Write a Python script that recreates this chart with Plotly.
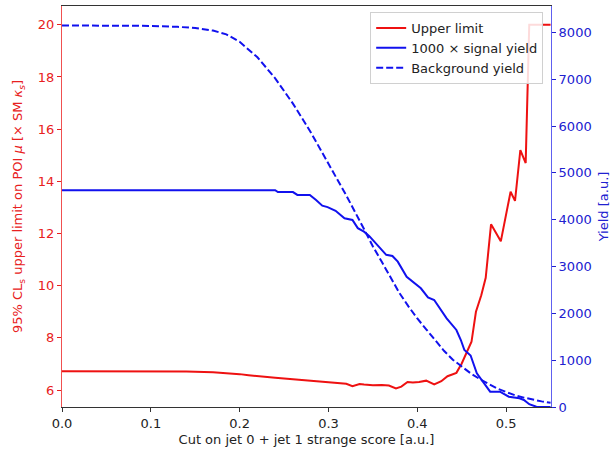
import plotly.graph_objects as go

# Upper limit (left axis)
limit_x = [0.000, 0.050, 0.100, 0.140, 0.170, 0.190, 0.200, 0.210, 0.220, 0.230, 0.240, 0.250,
           0.260, 0.270, 0.280, 0.290, 0.300, 0.310, 0.320, 0.327, 0.335, 0.340, 0.350, 0.360,
           0.368, 0.376, 0.382, 0.389, 0.395, 0.402, 0.410, 0.419, 0.427, 0.434, 0.444, 0.450,
           0.455, 0.461, 0.466, 0.472, 0.477, 0.483, 0.494, 0.505, 0.510, 0.516, 0.522, 0.526, 0.550]
limit_y = [6.72, 6.72, 6.72, 6.71, 6.68, 6.64, 6.61, 6.57, 6.53, 6.50, 6.47, 6.44,
           6.41, 6.38, 6.35, 6.33, 6.30, 6.27, 6.24, 6.15, 6.23, 6.21, 6.18, 6.19,
           6.17, 6.06, 6.13, 6.31, 6.29, 6.31, 6.36, 6.22, 6.34, 6.53, 6.66, 7.02,
           7.40, 7.85, 9.00, 9.63, 10.30, 12.35, 11.70, 13.60, 13.25, 15.20, 14.70, 20.00, 20.00]

# 1000 x signal yield (right axis)
signal_x = [0.000, 0.240, 0.243, 0.260, 0.265, 0.279, 0.286, 0.293, 0.299, 0.308, 0.318, 0.327,
            0.333, 0.340, 0.346, 0.357, 0.365, 0.372, 0.378, 0.388, 0.395, 0.404, 0.412, 0.419,
            0.433, 0.444, 0.449, 0.453, 0.460, 0.467, 0.482, 0.493, 0.503, 0.515, 0.520, 0.526,
            0.534, 0.550]
signal_y = [4630, 4630, 4590, 4590, 4530, 4530, 4420, 4300, 4270, 4190, 4030, 3995,
            3820, 3745, 3650, 3425, 3250, 3226, 3104, 2780, 2680, 2535, 2340, 2286,
            1895, 1645, 1431, 1218, 1100, 720, 327, 327, 220, 186, 150, 60,
            5, 0]

# Background yield (right axis)
bkg_x = [0.00, 0.05, 0.10, 0.13, 0.15, 0.17, 0.185, 0.20, 0.22, 0.24, 0.26, 0.28, 0.30, 0.32,
         0.34, 0.35, 0.36, 0.37, 0.38, 0.39, 0.40, 0.41, 0.42, 0.43, 0.44, 0.45, 0.46, 0.47,
         0.48, 0.49, 0.50, 0.51, 0.52, 0.53, 0.54, 0.55]
bkg_y = [8150, 8150, 8140, 8120, 8095, 8040, 7960, 7800, 7470, 7020, 6480, 5870, 5200, 4520,
         3800, 3430, 3100, 2760, 2430, 2150, 1890, 1660, 1420, 1200, 1010, 860, 720, 600,
         490, 395, 320, 250, 200, 155, 120, 92]

x_ticks = [0.0, 0.1, 0.2, 0.3, 0.4, 0.5]
left_ticks = [6, 8, 10, 12, 14, 16, 18, 20]
right_ticks = [0, 1000, 2000, 3000, 4000, 5000, 6000, 7000, 8000]

FONT = "DejaVu Sans"

fig = go.Figure()
fig.add_trace(go.Scatter(x=limit_x, y=limit_y, mode="lines", name="Upper limit",
                         line=dict(color="#ee1111", width=2), yaxis="y"))
fig.add_trace(go.Scatter(x=signal_x, y=signal_y, mode="lines", name="1000 × signal yield",
                         line=dict(color="#1111ee", width=2), yaxis="y2"))
fig.add_trace(go.Scatter(x=bkg_x, y=bkg_y, mode="lines", name="Background yield",
                         line=dict(color="#1111ee", width=2, dash="7px,3px"), yaxis="y2"))

fig.update_layout(
    width=613, height=453,
    margin=dict(l=62, r=62, t=6, b=46, autoexpand=False),
    paper_bgcolor="white", plot_bgcolor="white",
    font=dict(family=FONT, size=13, color="#222222"),
    showlegend=True,
    legend=dict(x=0.984, y=0.985, xanchor="right", yanchor="top",
                bgcolor="rgba(255,255,255,0.85)", bordercolor="#d0d0d0", borderwidth=1,
                font=dict(family=FONT, size=13, color="#222222"),
                tracegroupgap=0, itemwidth=30),
    xaxis=dict(range=[0, 0.5505], tickvals=x_ticks, ticktext=[f"{v:.1f}" for v in x_ticks],
               showgrid=False, zeroline=False, showline=True, linecolor="#333333", linewidth=1,
               mirror=True, ticks="outside", ticklen=4, tickcolor="#333333",
               tickfont=dict(size=13, color="#222222"),
               title=dict(text="Cut on jet 0 + jet 1 strange score [a.u.]", standoff=5,
                          font=dict(size=13, color="#222222"))),
    yaxis=dict(range=[5.35, 20.72], tickvals=left_ticks, showgrid=False, zeroline=False,
               showline=True, linecolor="#f05050", linewidth=1, ticks="outside", ticklen=4,
               tickcolor="#e82020", tickfont=dict(size=13, color="#e82020"),
               title=dict(text="95% CL<sub>s</sub> upper limit on POI <i>μ</i> [× SM <i>κ<sub>s</sub></i>]",
                          standoff=12, font=dict(size=13, color="#e82020"))),
    yaxis2=dict(range=[0, 8565], tickvals=right_ticks, overlaying="y", side="right", anchor="x",
                showgrid=False, zeroline=False, showline=True, linecolor="#6060f0", linewidth=1,
                ticks="outside", ticklen=4, tickcolor="#2020d0",
                tickfont=dict(size=13, color="#2020d0"),
                title=dict(text="Yield [a.u.]", standoff=8, font=dict(size=13, color="#2020d0"))),
)

fig.write_html("out.html", config={"displayModeBar": False},
               post_script="document.body.style.margin='0';document.body.style.overflow='hidden';")
